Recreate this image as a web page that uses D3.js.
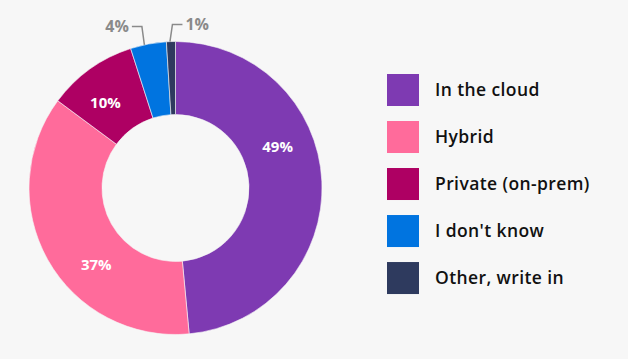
<!DOCTYPE html>
<html>
<head>
<meta charset="utf-8">
<script src="https://cdn.jsdelivr.net/npm/d3@7"></script>
<style>
  body { margin: 0; background: #f7f7f7; }
  svg { display: block; }
</style>
</head>
<body>
<svg id="chart" width="628" height="359"></svg>
<script>
/*--- Data ---*/
const categories = ["In the cloud", "Hybrid", "Private (on-prem)", "I don't know", "Other, write in"];
const shares = [49, 37, 10, 4, 1];
const colours = ["#7e3ab2", "#ff6b9b", "#ae0063", "#0074e0", "#2e3a5e"];
const percentLabels = ["49%", "37%", "10%", "4%", "1%"];

/*--- Setup ---*/
const svg = d3.select("#chart");
const cx = 175.5, cy = 188, outerR = 146.5, innerR = 73.5;
const labelR = 110;
// labels sit a bit before the middle of each slice, as in the original
const labelFrac = 0.39;

const slices = categories.map((c, i) => ({name: c, value: shares[i], colour: colours[i], label: percentLabels[i]}));

const pie = d3.pie().sort(null).value(d => d.value);
const arc = d3.arc().innerRadius(innerR).outerRadius(outerR);
const labelAngle = d => d.startAngle + labelFrac * (d.endAngle - d.startAngle);

const g = svg.append("g").attr("transform", `translate(${cx},${cy})`);

g.selectAll("path.slice")
    .data(pie(slices))
    .join("path")
    .attr("class", "slice")
    .attr("d", arc)
    .attr("fill", d => d.data.colour)
    .attr("stroke", "#f7f7f7")
    .attr("stroke-width", 0.6);

// big slices get their label inside
g.selectAll("text.inlabel")
    .data(pie(slices).filter(d => d.data.value >= 10))
    .join("text")
    .attr("class", "inlabel")
    .attr("x", d => Math.sin(labelAngle(d)) * labelR)
    .attr("y", d => -Math.cos(labelAngle(d)) * labelR)
    .attr("text-anchor", "middle")
    .attr("dy", "0.35em")
    .attr("fill", "#fff")
    .attr("font-family", "'Open Sans', sans-serif")
    .attr("font-weight", 700)
    .attr("font-size", 15)
    .text(d => d.data.label);

// small slices: leader line up and out
const small = pie(slices).filter(d => d.data.value < 10);
small.forEach(function(d) {
    const a = labelAngle(d);
    const sx = Math.sin(a) * outerR, sy = -Math.cos(a) * outerR;
    const side = d.data.value < 2 ? 1 : -1;
    const ey = -outerR - (side > 0 ? 17 : 15);
    const ex = sx + side * 2.5;
    const hx = ex + side * 10;
    g.append("polyline")
        .attr("points", `${sx},${sy} ${ex},${ey} ${hx},${ey}`)
        .attr("fill", "none")
        .attr("stroke", "#8a8a8a")
        .attr("stroke-width", 1.5);
    g.append("text")
        .attr("x", hx + side * 3)
        .attr("y", ey)
        .attr("dy", "0.35em")
        .attr("text-anchor", side > 0 ? "start" : "end")
        .attr("fill", "#8a8a8a")
        .attr("font-family", "'Open Sans', sans-serif")
        .attr("font-weight", 700)
        .attr("font-size", 16)
        .text(d.data.label);
});

/*--- Legend ---*/
const legendY = d3.scaleBand().domain(categories).range([74, 294]).paddingInner(0.32).paddingOuter(0);
const legend = svg.append("g");
legend.selectAll("rect")
    .data(slices)
    .join("rect")
    .attr("x", 387)
    .attr("y", d => legendY(d.name))
    .attr("width", 32)
    .attr("height", 32)
    .attr("fill", d => d.colour);
legend.selectAll("text")
    .data(slices)
    .join("text")
    .attr("x", 435)
    .attr("y", d => legendY(d.name) + 16)
    .attr("dy", "0.35em")
    .attr("fill", "#111")
    .attr("font-family", "'Open Sans', sans-serif")
    .attr("font-weight", 600)
    .attr("font-size", 17.5)
    .attr("letter-spacing", 0.4)
    .text(d => d.name);
</script>
</body>
</html>
